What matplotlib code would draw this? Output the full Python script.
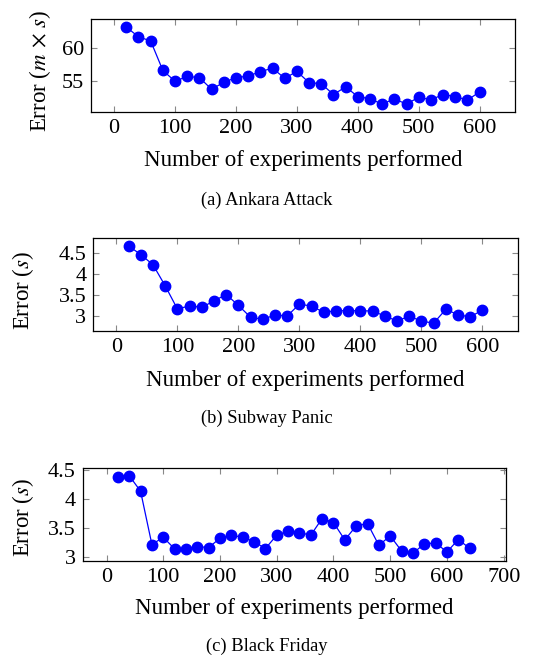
import matplotlib
matplotlib.use("Agg")
import matplotlib.pyplot as plt

plt.rcParams['font.family'] = ['Liberation Serif', 'DejaVu Serif']
plt.rcParams['mathtext.fontset'] = 'stix'

### data ###
x_a = list(range(20, 601, 20))
err_a = [63.07, 61.63, 60.99, 56.58, 54.95, 55.69, 55.50, 53.76, 54.80, 55.50,
         55.74, 56.39, 56.93, 55.40, 56.44, 54.75, 54.60, 52.97, 54.11, 52.67,
         52.33, 51.53, 52.33, 51.53, 52.57, 52.18, 52.97, 52.67, 52.13, 53.37]

x_b = list(range(20, 601, 20))
err_b = [4.656, 4.453, 4.211, 3.711, 3.164, 3.242, 3.203, 3.359, 3.508, 3.250,
         2.969, 2.922, 3.023, 3.000, 3.281, 3.234, 3.086, 3.125, 3.125, 3.125,
         3.117, 3.000, 2.883, 2.992, 2.883, 2.828, 3.156, 3.031, 2.977, 3.141]

x_c = list(range(20, 641, 20))
err_c = [4.379, 4.397, 4.132, 3.213, 3.339, 3.138, 3.144, 3.178, 3.161, 3.322,
         3.374, 3.339, 3.264, 3.144, 3.374, 3.443, 3.420, 3.374, 3.661, 3.592,
         3.293, 3.534, 3.575, 3.201, 3.362, 3.103, 3.063, 3.224, 3.241, 3.086,
         3.299, 3.149]

fig = plt.figure(figsize=(5.39, 6.60), dpi=100)

def panel(rect, x, y, xlim, ylim, xticks, yticks, yticklabels, ylabel, ylab_pos, xlab_y, caption, cap_y):
    ax = fig.add_axes(rect)
    ax.plot(x, y, color="blue", marker="o", markersize=7.5, linewidth=0.9)
    ax.set_xlim(*xlim)
    ax.set_ylim(*ylim)
    ax.set_xticks(xticks)
    ax.set_yticks(yticks)
    ax.set_yticklabels(yticklabels)
    ax.tick_params(direction="in", length=4, width=0.8, color="#888888",
                   top=True, right=True, labelsize=16, pad=5)
    for s in ax.spines.values():
        s.set_linewidth(0.9)
    ax.set_ylabel(ylabel, fontsize=16.5, va="center")
    ax.yaxis.set_label_coords(*ylab_pos)
    ax.set_xlabel("Number of experiments performed", fontsize=16.5, va="center")
    ax.xaxis.set_label_coords(0.5, xlab_y)
    fig.text(267 / 539, cap_y, caption, ha="center", va="center", fontsize=13.3)
    return ax

panel([0.1688, 0.8308, 0.7866, 0.140], x_a, err_a, (-38, 658), (50.4, 64.25),
      range(0, 601, 100), [55, 60], ["55", "60"], r"Error ($m\,\times\,s$)",
      (-0.12, 0.44), -0.53, "(a) Ankara Attack", 1 - 200 / 660)

panel([0.1731, 0.4985, 0.7874, 0.1405], x_b, err_b, (-38, 658), (2.645, 4.84),
      range(0, 601, 100), [3, 3.5, 4, 4.5], ["3", "3.5", "4", "4.5"], r"Error ($s$)",
      (-0.166, 0.437), -0.535, "(b) Subway Panic", 1 - 418.5 / 660)

panel([0.1534, 0.150, 0.7853, 0.1409], x_c, err_c, (-42, 704), (2.93, 4.53),
      range(0, 701, 100), [3, 3.5, 4, 4.5], ["3", "3.5", "4", "4.5"], r"Error ($s$)",
      (-0.14, 0.47), -0.51, "(c) Black Friday", 1 - 646.5 / 660)

fig.savefig("out.png", dpi=100)
